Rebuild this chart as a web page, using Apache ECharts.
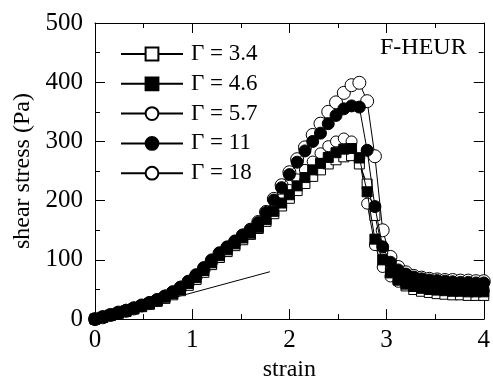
<!DOCTYPE html>
<html><head><meta charset="utf-8">
<script src="https://cdn.jsdelivr.net/npm/echarts@6/dist/echarts.min.js"></script>
<style>html,body{margin:0;padding:0;background:#fff}#c{width:493px;height:387px}</style>
</head><body><div id="c"></div>
<script>
const strain = [0,0.08,0.16,0.24,0.32,0.40,0.48,0.56,0.64,0.72,0.80,0.88,0.96,1.04,1.12,1.20,1.28,1.36,1.44,1.52,
  1.60,1.68,1.76,1.84,1.92,2.00,2.08,2.16,2.24,2.32,2.40,2.48,2.56,2.64,2.72,2.80,2.88,2.96,3.04,3.12,
  3.20,3.28,3.36,3.44,3.52,3.60,3.68,3.76,3.84,3.92,4.00];
const g34 = [0,3,6,10,13,17,21,25,30,35,41,48,57,67,79,92,104,114,124,134,
  143,153,165,178,191,204,217,229,241,252,262,269,274,276,262,228,175,118,85,66,
  56,50,47,45,43,42,41,41,40,40,40];
const g46 = [0,3,7,10,14,18,22,26,31,37,43,50,60,70,82,95,107,117,127,137,
  145,155,168,182,196,210,225,239,252,263,273,281,287,288,272,215,135,100,78,66,
  59,55,52,50,49,48,47,47,46,46,46];
const g57 = [0,3,7,11,14,18,22,27,32,38,44,51,61,72,84,97,109,119,129,139,
  148,159,172,187,202,218,236,252,266,280,292,300,305,300,272,195,125,88,72,63,
  58,55,53,52,51,50,50,49,49,48,48];
const g11 = [0,4,7,11,15,19,23,28,33,39,46,54,64,75,87,100,112,122,132,142,
  151,163,180,201,222,244,265,284,300,314,330,344,355,360,358,285,190,122,96,83,
  76,71,68,66,65,64,63,62,62,61,61];
const g18 = [0,3,7,11,14,18,23,27,32,38,45,53,62,73,85,98,110,120,130,141,
  151,164,181,203,226,248,270,290,311,330,350,366,382,395,399,368,275,150,105,88,
  79,73,70,68,67,66,66,65,65,64,64];
const tangentX = [0, 1.8];
const tangentY = [0, 80];
const seriesNames = ['\u0393 = 3.4','\u0393 = 4.6','\u0393 = 5.7','\u0393 = 11','\u0393 = 18'];
const xTicks = [0,1,2,3,4];
const yTicks = [0,100,200,300,400,500];

const FONT = "'Liberation Serif','Times New Roman',serif";
const pair = arr => strain.map((x,i)=>[x,arr[i]]);
const mk = (name, arr, symbol, size, fill, bw, z) => ({
  name, type:'line', data: pair(arr), symbol, symbolSize: size,
  showSymbol: true,
  lineStyle:{color:'#000', width:1},
  itemStyle:{color: fill, borderColor:'#000', borderWidth: bw},
  emphasis:{disabled:true}, animation:false, z
});
const axisCommon = {
  axisLine:{show:true, onZero:false, lineStyle:{color:'#000', width:1}},
  axisTick:{show:true, inside:true, length:10, lineStyle:{color:'#000', width:1}},
  minorTick:{show:true, splitNumber:2, length:5, lineStyle:{color:'#000', width:1}},
  splitLine:{show:false}
};
const chart = echarts.init(document.getElementById('c'), null, {renderer:'canvas'});
chart.setOption({
  animation:false,
  backgroundColor:'#fff',
  grid:{left:95, right:5, top:23, bottom:62, containLabel:false},
  title:{text:'F-HEUR', left:380, top:36, padding:0,
    textStyle:{fontFamily:FONT, fontSize:24, fontWeight:'normal', color:'#000'}},
  legend:{
    data: seriesNames, orient:'vertical', left:120, top:42.5, padding:0,
    itemWidth:62, itemHeight:16, itemGap:6.8,
    textStyle:{fontFamily:FONT, fontSize:23, lineHeight:23, color:'#000', padding:[0,0,0,3]},
    inactiveColor:'#000', selectedMode:false
  },
  xAxis:[
    Object.assign({type:'value', min:0, max:4, interval:1, position:'bottom',
      axisLabel:{fontFamily:FONT, fontSize:25, color:'#000', margin:9,
        formatter: v => xTicks.includes(v) ? String(v) : ''},
      name:'strain', nameLocation:'middle', nameGap:35,
      nameTextStyle:{fontFamily:FONT, fontSize:24, color:'#000'}}, axisCommon),
    Object.assign({type:'value', min:0, max:4, interval:1, position:'top',
      axisLabel:{show:false}}, axisCommon)
  ],
  yAxis:[
    Object.assign({type:'value', min:0, max:500, interval:100, position:'left',
      axisLabel:{fontFamily:FONT, fontSize:25, color:'#000', margin:12,
        formatter: v => yTicks.includes(v) ? String(v) : ''},
      name:'shear stress (Pa)', nameLocation:'middle', nameGap:60,
      nameTextStyle:{fontFamily:FONT, fontSize:24, color:'#000'}}, axisCommon),
    Object.assign({type:'value', min:0, max:500, interval:100, position:'right',
      axisLabel:{show:false}}, axisCommon)
  ],
  series:[
    {name:'tangent', type:'line', data: tangentX.map((x,i)=>[x,tangentY[i]]), symbol:'none',
      lineStyle:{color:'#000', width:1}, z:2, animation:false},
    mk(seriesNames[0], g34, 'rect', 10, '#fff', 1, 5),
    mk(seriesNames[1], g46, 'rect', 10, '#000', 1, 6),
    mk(seriesNames[2], g57, 'circle', 11, '#fff', 1, 4),
    mk(seriesNames[3], g11, 'circle', 12, '#000', 1, 7),
    mk(seriesNames[4], g18, 'circle', 13, '#fff', 1, 3)
  ]
});
</script></body></html>
